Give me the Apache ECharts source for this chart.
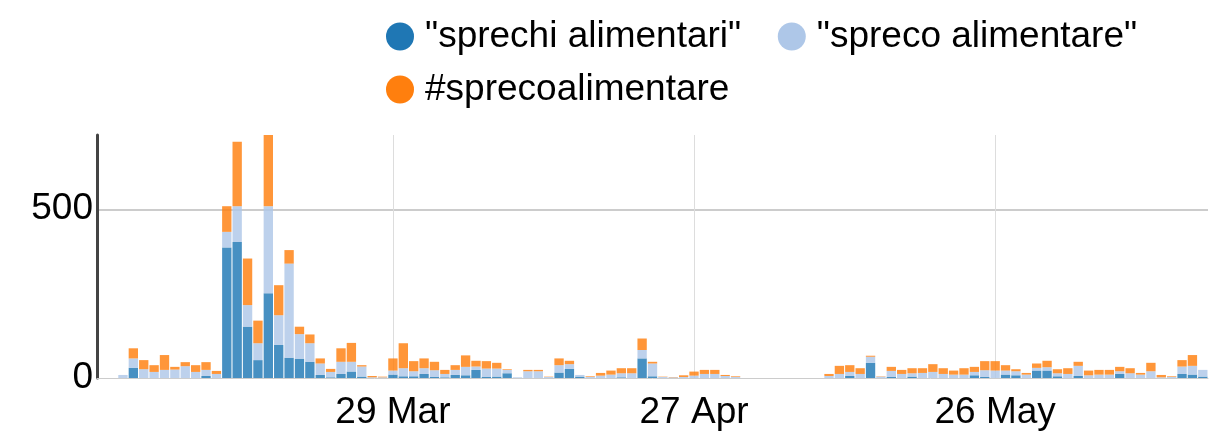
<!DOCTYPE html>
<html lang="it">
<head>
    <meta charset="UTF-8">
    <title>sprechi alimentari</title>
    <script type="text/javascript" src="https://cdn.jsdelivr.net/npm/echarts@6/dist/echarts.min.js"></script>
    <style>
        html, body { margin: 0; padding: 0; background: #fff; }
        #chart { width: 1214px; height: 436px; }
    </style>
</head>
<body>
<div id="chart"></div>
<script>
    var seriesNames = ['"sprechi alimentari"', '"spreco alimentare"', '#sprecoalimentare'];
    var seriesColors = ['#1f77b4', '#aec7e8', '#ff7f0e'];

    // un giorno per barra, dal 1 Mar al 15 Jun
    var firstDay = '2020-03-01';
    var dayCount = 107;

    // tick dell'asse x
    var tickLabels = ['29 Mar', '27 Apr', '26 May'];

    var sprechiAlimentari = [
        0, 0, 0, 30, 0, 0, 0, 0, 0,
        0, 6, 0, 387, 403, 152, 53, 251, 98, 60,
        57, 48, 9, 2, 12, 19, 4, 0, 0, 10,
        5, 5, 12, 3, 2, 9, 8, 24, 3, 4,
        14, 0, 0, 0, 0, 16, 27, 4, 0, 0,
        0, 2, 0, 58, 5, 0, 0, 0, 0, 0,
        0, 0, 0, 0, 0, 0, 0, 0, 0, 0,
        0, 0, 0, 6, 0, 45, 0, 3, 0, 4,
        0, 0, 0, 0, 0, 8, 3, 0, 10, 8,
        0, 22, 22, 5, 0, 6, 0, 0, 0, 12,
        0, 0, 0, 0, 0, 12, 10, 4
    ];
    var sprecoAlimentare = [
        0, 0, 9, 28, 26, 18, 24, 25, 35,
        18, 18, 12, 46, 106, 64, 50, 258, 88, 279,
        73, 55, 34, 16, 36, 29, 30, 2, 2, 12,
        24, 15, 17, 20, 10, 15, 25, 10, 25, 24,
        10, 2, 20, 20, 3, 22, 14, 5, 3, 7,
        10, 12, 14, 25, 38, 3, 2, 3, 7, 12,
        12, 6, 3, 0, 0, 0, 0, 0, 0, 0,
        0, 6, 12, 12, 12, 18, 4, 18, 12, 10,
        15, 18, 12, 10, 10, 10, 20, 22, 12, 12,
        10, 8, 10, 9, 12, 30, 8, 10, 10, 8,
        14, 10, 20, 2, 3, 22, 26, 20
    ];
    var hashtag = [
        0, 0, 0, 30, 27, 20, 44, 8, 12,
        20, 23, 9, 76, 191, 138, 67, 211, 89, 40,
        22, 26, 15, 9, 40, 56, 4, 4, 2, 36,
        74, 30, 29, 25, 12, 14, 34, 17, 22, 17,
        2, 0, 4, 4, 1, 20, 10, 0, 2, 8,
        12, 15, 15, 34, 5, 1, 1, 5, 12, 12,
        12, 3, 2, 0, 0, 0, 0, 0, 0, 0,
        0, 6, 24, 20, 17, 3, 1, 12, 12, 15,
        14, 23, 17, 12, 19, 15, 27, 28, 16, 6,
        5, 13, 19, 12, 17, 12, 14, 14, 14, 13,
        15, 5, 25, 7, 2, 19, 32, 0
    ];

    var font = "'Liberation Sans', Arial, Helvetica, sans-serif";
    var months = ['Jan', 'Feb', 'Mar', 'Apr', 'May', 'Jun', 'Jul', 'Aug', 'Sep', 'Oct', 'Nov', 'Dec'];

    // etichette dei giorni
    var days = [];
    var start = new Date(firstDay + 'T12:00:00Z');
    for (var i = 0; i < dayCount; i++) {
        var d = new Date(start.getTime() + i * 86400000);
        days.push(d.getUTCDate() + ' ' + months[d.getUTCMonth()]);
    }

    function isTick(index, value) {
        return tickLabels.indexOf(days[index]) >= 0;
    }

    function makeSeries(idx, values) {
        return {
            name: seriesNames[idx],
            type: 'bar',
            stack: 'total',
            barCategoryGap: '10%',
            itemStyle: { color: seriesColors[idx], opacity: 0.82 },
            data: values
        };
    }

    var mychart = echarts.init(document.getElementById('chart'));
    var option = {
        animation: false,
        legend: {
            top: 13,
            left: 381,
            width: 800,
            icon: 'circle',
            itemWidth: 40,
            itemHeight: 28,
            itemGap: 16,
            itemStyle: { opacity: 1 },
            textStyle: { fontSize: 37, color: '#000', fontFamily: font },
            // un po' di spazio in più tra le voci della stessa riga
            formatter: function (name) {
                return name + '\u00a0\u00a0';
            },
            data: seriesNames
        },
        grid: { left: 97, right: 6, top: 135, bottom: 58 },
        xAxis: {
            type: 'category',
            data: days,
            axisLine: { show: true, lineStyle: { color: '#ccc', width: 1 } },
            axisTick: { show: false, alignWithLabel: true, interval: isTick },
            axisLabel: {
                interval: isTick,
                fontSize: 37,
                color: '#000',
                fontFamily: font,
                margin: 16
            },
            splitLine: {
                show: true,
                alignWithLabel: true,
                interval: isTick,
                lineStyle: { color: '#ddd', width: 1 }
            }
        },
        yAxis: {
            type: 'value',
            min: 0,
            max: 720,
            interval: 500,
            axisLine: { show: true, lineStyle: { color: '#444', width: 3 } },
            axisTick: { show: false },
            axisLabel: {
                fontSize: 37,
                color: '#000',
                fontFamily: font,
                margin: 4,
                showMaxLabel: false
            },
            splitLine: {
                show: true,
                showMinLine: false,
                showMaxLine: false,
                lineStyle: { color: '#ccc', width: 2 }
            }
        },
        series: [
            makeSeries(0, sprechiAlimentari),
            makeSeries(1, sprecoAlimentare),
            makeSeries(2, hashtag)
        ]
    };
    mychart.setOption(option);
</script>
</body>
</html>
